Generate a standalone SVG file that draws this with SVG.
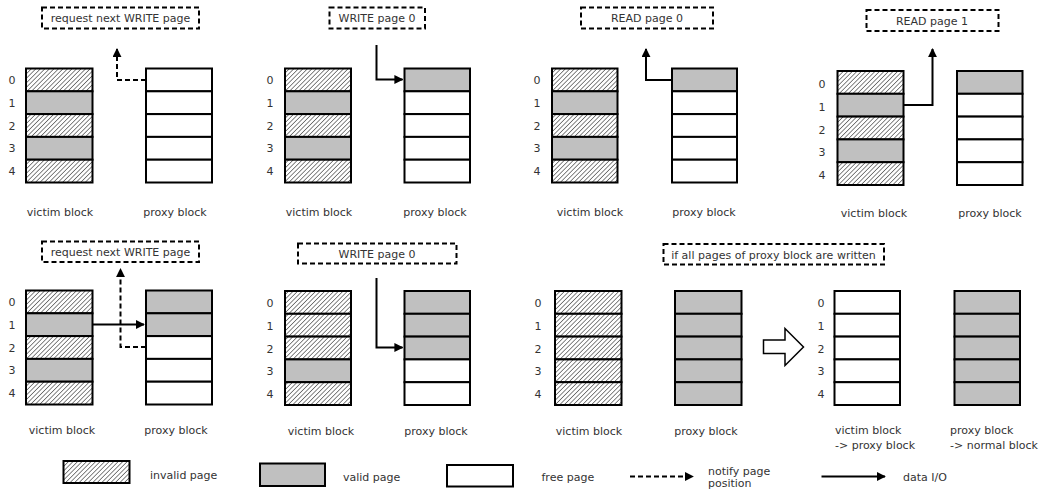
<svg xmlns="http://www.w3.org/2000/svg" width="1051" height="491" viewBox="0 0 1051 491">
<defs>
<pattern id="hatch" patternUnits="userSpaceOnUse" width="3.2" height="3.2" patternTransform="rotate(45)">
<rect width="3.2" height="3.2" fill="#fff"/>
<line x1="0" y1="0" x2="0" y2="3.2" stroke="#222" stroke-width="1.1"/>
</pattern>
<marker id="ah" viewBox="0 0 10 10" refX="9" refY="5" markerWidth="4.5" markerHeight="4.5" orient="auto" markerUnits="strokeWidth">
<path d="M0,0 L10,5 L0,10 z" fill="#000"/>
</marker>
</defs>
<style>
.I{fill:url(#hatch);stroke:#000;stroke-width:2}
.V{fill:#c0c0c0;stroke:#000;stroke-width:2}
.F{fill:#fff;stroke:#000;stroke-width:2}
.t{font-family:"DejaVu Sans","Liberation Sans",sans-serif;font-size:11px;fill:#333}
.c{text-anchor:middle}
.box{fill:#fff;stroke:#000;stroke-width:2;stroke-dasharray:5,3}
.dl{fill:none;stroke:#000;stroke-width:2;stroke-dasharray:5,3}
.sl{fill:none;stroke:#000;stroke-width:2}
</style>
<rect width="1051" height="491" fill="#fff"/>

<!-- Panel 1 -->
<g id="p1">
<g class="t c"><text x="12" y="84">0</text><text x="12" y="107">1</text><text x="12" y="130">2</text><text x="12" y="152">3</text><text x="12" y="175">4</text></g>
<rect class="I" x="26" y="68.5" width="66.5" height="22.8"/><rect class="V" x="26" y="91.3" width="66.5" height="22.8"/><rect class="I" x="26" y="114.1" width="66.5" height="22.8"/><rect class="V" x="26" y="136.9" width="66.5" height="22.8"/><rect class="I" x="26" y="159.7" width="66.5" height="22.8"/>
<rect class="F" x="146" y="68.5" width="66" height="22.8"/><rect class="F" x="146" y="91.3" width="66" height="22.8"/><rect class="F" x="146" y="114.1" width="66" height="22.8"/><rect class="F" x="146" y="136.9" width="66" height="22.8"/><rect class="F" x="146" y="159.7" width="66" height="22.8"/>
<rect class="box" x="42" y="7.5" width="157" height="21"/>
<text class="t c" x="120.5" y="22">request next WRITE page</text>
<text class="t c" x="60" y="216">victim block</text>
<text class="t c" x="175" y="216">proxy block</text>
</g>

<!-- Panel 2 -->
<g id="p2">
<g class="t c"><text x="270" y="84">0</text><text x="270" y="107">1</text><text x="270" y="130">2</text><text x="270" y="152">3</text><text x="270" y="175">4</text></g>
<rect class="I" x="285" y="68.5" width="66" height="22.8"/><rect class="V" x="285" y="91.3" width="66" height="22.8"/><rect class="I" x="285" y="114.1" width="66" height="22.8"/><rect class="V" x="285" y="136.9" width="66" height="22.8"/><rect class="I" x="285" y="159.7" width="66" height="22.8"/>
<rect class="V" x="404.5" y="68.5" width="65.5" height="22.8"/><rect class="F" x="404.5" y="91.3" width="65.5" height="22.8"/><rect class="F" x="404.5" y="114.1" width="65.5" height="22.8"/><rect class="F" x="404.5" y="136.9" width="65.5" height="22.8"/><rect class="F" x="404.5" y="159.7" width="65.5" height="22.8"/>
<rect class="box" x="329.5" y="7.5" width="95.5" height="21"/>
<text class="t c" x="377" y="22">WRITE page 0</text>
<text class="t c" x="319" y="216">victim block</text>
<text class="t c" x="435" y="216">proxy block</text>
</g>

<!-- Panel 3 -->
<g id="p3">
<g class="t c"><text x="537" y="84">0</text><text x="537" y="107">1</text><text x="537" y="130">2</text><text x="537" y="152">3</text><text x="537" y="175">4</text></g>
<rect class="I" x="552" y="68.5" width="65.5" height="22.8"/><rect class="V" x="552" y="91.3" width="65.5" height="22.8"/><rect class="I" x="552" y="114.1" width="65.5" height="22.8"/><rect class="V" x="552" y="136.9" width="65.5" height="22.8"/><rect class="I" x="552" y="159.7" width="65.5" height="22.8"/>
<rect class="V" x="672" y="68.5" width="65" height="22.8"/><rect class="F" x="672" y="91.3" width="65" height="22.8"/><rect class="F" x="672" y="114.1" width="65" height="22.8"/><rect class="F" x="672" y="136.9" width="65" height="22.8"/><rect class="F" x="672" y="159.7" width="65" height="22.8"/>
<rect class="box" x="581" y="7.5" width="132" height="21"/>
<text class="t c" x="647" y="22">READ page 0</text>
<text class="t c" x="590" y="216">victim block</text>
<text class="t c" x="704" y="216">proxy block</text>
</g>

<!-- Panel 4 -->
<g id="p4">
<g class="t c"><text x="822" y="88">0</text><text x="822" y="111">1</text><text x="822" y="134">2</text><text x="822" y="156">3</text><text x="822" y="179">4</text></g>
<rect class="I" x="837.5" y="71" width="66" height="22.8"/><rect class="V" x="837.5" y="93.8" width="66" height="22.8"/><rect class="I" x="837.5" y="116.6" width="66" height="22.8"/><rect class="V" x="837.5" y="139.4" width="66" height="22.8"/><rect class="I" x="837.5" y="162.2" width="66" height="22.8"/>
<rect class="V" x="957" y="71" width="65.5" height="22.8"/><rect class="F" x="957" y="93.8" width="65.5" height="22.8"/><rect class="F" x="957" y="116.6" width="65.5" height="22.8"/><rect class="F" x="957" y="139.4" width="65.5" height="22.8"/><rect class="F" x="957" y="162.2" width="65.5" height="22.8"/>
<rect class="box" x="866.5" y="10" width="132" height="21"/>
<text class="t c" x="932" y="25">READ page 1</text>
<text class="t c" x="874" y="217">victim block</text>
<text class="t c" x="990" y="217">proxy block</text>
</g>

<!-- Panel 5 -->
<g id="p5">
<g class="t c"><text x="12" y="306">0</text><text x="12" y="329">1</text><text x="12" y="352">2</text><text x="12" y="374">3</text><text x="12" y="397">4</text></g>
<rect class="I" x="26" y="290.5" width="66.5" height="22.8"/><rect class="V" x="26" y="313.3" width="66.5" height="22.8"/><rect class="I" x="26" y="336.1" width="66.5" height="22.8"/><rect class="V" x="26" y="358.9" width="66.5" height="22.8"/><rect class="I" x="26" y="381.7" width="66.5" height="22.8"/>
<rect class="V" x="146" y="290.5" width="66" height="22.8"/><rect class="V" x="146" y="313.3" width="66" height="22.8"/><rect class="F" x="146" y="336.1" width="66" height="22.8"/><rect class="F" x="146" y="358.9" width="66" height="22.8"/><rect class="F" x="146" y="381.7" width="66" height="22.8"/>
<rect class="box" x="42" y="241.5" width="157" height="20.5"/>
<text class="t c" x="120.5" y="256">request next WRITE page</text>
<text class="t c" x="62" y="434">victim block</text>
<text class="t c" x="176" y="434">proxy block</text>
</g>

<!-- Panel 6 -->
<g id="p6">
<g class="t c"><text x="270" y="307">0</text><text x="270" y="330">1</text><text x="270" y="353">2</text><text x="270" y="375">3</text><text x="270" y="398">4</text></g>
<rect class="I" x="285" y="291" width="66" height="22.8"/><rect class="I" x="285" y="313.8" width="66" height="22.8"/><rect class="I" x="285" y="336.6" width="66" height="22.8"/><rect class="V" x="285" y="359.4" width="66" height="22.8"/><rect class="I" x="285" y="382.2" width="66" height="22.8"/>
<rect class="V" x="404.5" y="291" width="65.5" height="22.8"/><rect class="V" x="404.5" y="313.8" width="65.5" height="22.8"/><rect class="V" x="404.5" y="336.6" width="65.5" height="22.8"/><rect class="F" x="404.5" y="359.4" width="65.5" height="22.8"/><rect class="F" x="404.5" y="382.2" width="65.5" height="22.8"/>
<rect class="box" x="298" y="243.5" width="158.5" height="20"/>
<text class="t c" x="377" y="258">WRITE page 0</text>
<text class="t c" x="321" y="435">victim block</text>
<text class="t c" x="436" y="435">proxy block</text>
</g>

<!-- Panel 7 -->
<g id="p7">
<g class="t c"><text x="538" y="307">0</text><text x="538" y="330">1</text><text x="538" y="353">2</text><text x="538" y="375">3</text><text x="538" y="398">4</text></g>
<rect class="I" x="555" y="291" width="66.5" height="22.8"/><rect class="I" x="555" y="313.8" width="66.5" height="22.8"/><rect class="I" x="555" y="336.6" width="66.5" height="22.8"/><rect class="I" x="555" y="359.4" width="66.5" height="22.8"/><rect class="I" x="555" y="382.2" width="66.5" height="22.8"/>
<rect class="V" x="675" y="291" width="66.5" height="22.8"/><rect class="V" x="675" y="313.8" width="66.5" height="22.8"/><rect class="V" x="675" y="336.6" width="66.5" height="22.8"/><rect class="V" x="675" y="359.4" width="66.5" height="22.8"/><rect class="V" x="675" y="382.2" width="66.5" height="22.8"/>
<rect class="box" x="663.5" y="244" width="220.5" height="20.5"/>
<text class="t c" x="773.5" y="258.5">if all pages of proxy block are written</text>
<text class="t c" x="589" y="435">victim block</text>
<text class="t c" x="706" y="435">proxy block</text>
<path d="M763.5,340 L785,340 L785,328.5 L803.5,347 L785,365.5 L785,353.5 L763.5,353.5 Z" fill="#fff" stroke="#000" stroke-width="1.5"/>
</g>

<!-- Panel 8 -->
<g id="p8">
<g class="t c"><text x="821" y="307">0</text><text x="821" y="330">1</text><text x="821" y="353">2</text><text x="821" y="375">3</text><text x="821" y="398">4</text></g>
<rect class="F" x="834.5" y="291" width="65.5" height="22.8"/><rect class="F" x="834.5" y="313.8" width="65.5" height="22.8"/><rect class="F" x="834.5" y="336.6" width="65.5" height="22.8"/><rect class="F" x="834.5" y="359.4" width="65.5" height="22.8"/><rect class="F" x="834.5" y="382.2" width="65.5" height="22.8"/>
<rect class="V" x="954.5" y="291" width="65.5" height="22.8"/><rect class="V" x="954.5" y="313.8" width="65.5" height="22.8"/><rect class="V" x="954.5" y="336.6" width="65.5" height="22.8"/><rect class="V" x="954.5" y="359.4" width="65.5" height="22.8"/><rect class="V" x="954.5" y="382.2" width="65.5" height="22.8"/>
<text class="t" x="835" y="434">victim block</text>
<text class="t" x="835" y="449">-&gt; proxy block</text>
<text class="t" x="950" y="434">proxy block</text>
<text class="t" x="950" y="449">-&gt; normal block</text>
</g>

<!-- Connectors -->
<g id="connectors">
<path class="dl" d="M146,80 L117,80 L117,49" marker-end="url(#ah)"/>
<path class="sl" d="M376.5,45 L376.5,79.5 L402.5,79.5" marker-end="url(#ah)"/>
<path class="sl" d="M672,80 L646,80 L646,49" marker-end="url(#ah)"/>
<path class="sl" d="M903.5,105 L932.5,105 L932.5,49" marker-end="url(#ah)"/>
<path class="sl" d="M92.5,324.5 L144,324.5" marker-end="url(#ah)"/>
<path class="dl" d="M146,347 L120.5,347 L120.5,269" marker-end="url(#ah)"/>
<path class="sl" d="M376.5,278 L376.5,347.5 L402.5,347.5" marker-end="url(#ah)"/>
</g>

<!-- Legend -->
<g id="legend">
<rect class="I" x="63.5" y="461" width="66" height="22"/>
<text class="t" x="150" y="479">invalid page</text>
<rect class="V" x="260" y="463.5" width="65" height="22.5"/>
<text class="t" x="343" y="481">valid page</text>
<rect class="F" x="447" y="465" width="66" height="21.5"/>
<text class="t" x="541.5" y="481">free page</text>
<path class="dl" d="M630,476.5 L693,476.5" marker-end="url(#ah)"/>
<text class="t" x="708" y="475">notify page</text>
<text class="t" x="708" y="487">position</text>
<path class="sl" d="M821.5,476.5 L885,476.5" marker-end="url(#ah)"/>
<text class="t" x="903" y="481">data I/O</text>
</g>
</svg>
